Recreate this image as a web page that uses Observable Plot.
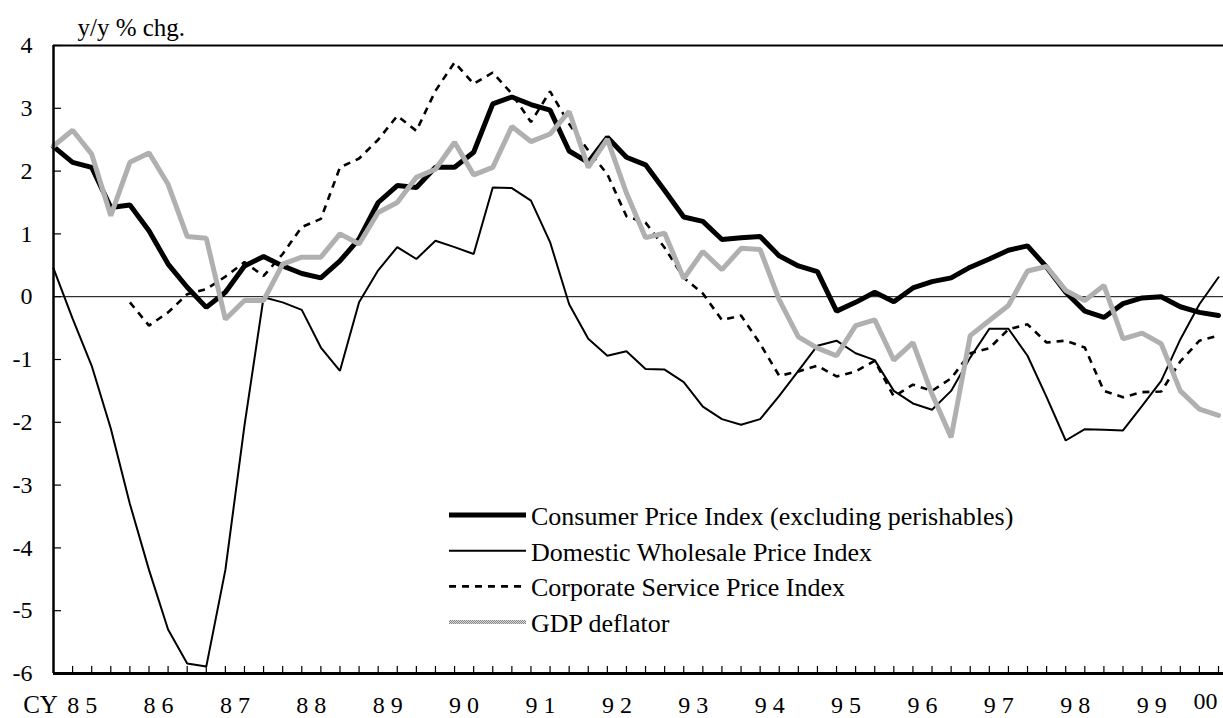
<!DOCTYPE html>
<html>
<head>
<meta charset="utf-8">
<script src="https://cdn.jsdelivr.net/npm/d3@7"></script>
<script src="https://cdn.jsdelivr.net/npm/@observablehq/plot@0.6"></script>
<style>
  html, body { margin: 0; padding: 0; background: #fff; }
  #chart { width: 1223px; height: 718px; }
</style>
</head>
<body>
<div id="chart"></div>
<script>
// ---- data (y/y % change, quarterly, 1985Q1 .. 2000Q2) ----
const quarters = [
  "1985Q1","1985Q2","1985Q3","1985Q4","1986Q1","1986Q2","1986Q3","1986Q4",
  "1987Q1","1987Q2","1987Q3","1987Q4","1988Q1","1988Q2","1988Q3","1988Q4",
  "1989Q1","1989Q2","1989Q3","1989Q4","1990Q1","1990Q2","1990Q3","1990Q4",
  "1991Q1","1991Q2","1991Q3","1991Q4","1992Q1","1992Q2","1992Q3","1992Q4",
  "1993Q1","1993Q2","1993Q3","1993Q4","1994Q1","1994Q2","1994Q3","1994Q4",
  "1995Q1","1995Q2","1995Q3","1995Q4","1996Q1","1996Q2","1996Q3","1996Q4",
  "1997Q1","1997Q2","1997Q3","1997Q4","1998Q1","1998Q2","1998Q3","1998Q4",
  "1999Q1","1999Q2","1999Q3","1999Q4","2000Q1","2000Q2"
];

const cpi = [
  2.39, 2.14, 2.06, 1.42, 1.46, 1.05, 0.52, 0.15,
  -0.17, 0.07, 0.49, 0.64, 0.49, 0.37, 0.30, 0.57,
  0.92, 1.50, 1.77, 1.74, 2.06, 2.06, 2.30, 3.07,
  3.18, 3.06, 2.97, 2.32, 2.14, 2.54, 2.22, 2.10,
  1.69, 1.27, 1.20, 0.91, 0.94, 0.96, 0.65, 0.49,
  0.40, -0.23, -0.09, 0.07, -0.08, 0.14, 0.24, 0.30,
  0.47, 0.60, 0.74, 0.81, 0.47, 0.07, -0.23, -0.33,
  -0.11, -0.02, 0.00, -0.16, -0.25, -0.30
];

const wpi = [
  0.45, -0.35, -1.10, -2.10, -3.30, -4.35, -5.30, -5.84,
  -5.89, -4.35, -2.05, -0.01, -0.09, -0.21, -0.81, -1.18,
  -0.09, 0.42, 0.79, 0.60, 0.89, 0.79, 0.68, 1.74,
  1.73, 1.53, 0.87, -0.12, -0.67, -0.94, -0.87, -1.15,
  -1.16, -1.36, -1.75, -1.95, -2.04, -1.95, -1.58, -1.18,
  -0.78, -0.70, -0.90, -1.01, -1.50, -1.70, -1.80, -1.50,
  -0.97, -0.51, -0.51, -0.94, -1.60, -2.29, -2.11, -2.12,
  -2.13, -1.74, -1.34, -0.68, -0.12, 0.31
];

const cspi = [
  null, null, null, null, -0.09, -0.46, -0.25, 0.04,
  0.12, 0.32, 0.55, 0.33, 0.68, 1.11, 1.24, 2.06,
  2.20, 2.50, 2.88, 2.64, 3.28, 3.73, 3.39, 3.57,
  3.23, 2.78, 3.27, 2.75, 2.33, 1.95, 1.28, 1.18,
  0.78, 0.30, 0.05, -0.37, -0.30, -0.75, -1.26, -1.19,
  -1.10, -1.27, -1.19, -1.02, -1.59, -1.40, -1.50, -1.30,
  -0.90, -0.82, -0.52, -0.44, -0.73, -0.70, -0.81, -1.50,
  -1.60, -1.52, -1.51, -1.03, -0.70, -0.62
];

const gdp = [
  2.40, 2.65, 2.27, 1.29, 2.14, 2.29, 1.79, 0.96,
  0.93, -0.36, -0.06, -0.06, 0.52, 0.63, 0.63, 1.00,
  0.84, 1.34, 1.50, 1.90, 2.03, 2.46, 1.94, 2.06,
  2.71, 2.47, 2.59, 2.95, 2.06, 2.51, 1.65, 0.94,
  1.01, 0.29, 0.72, 0.43, 0.77, 0.75, -0.05, -0.64,
  -0.82, -0.94, -0.46, -0.37, -1.01, -0.73, -1.55, -2.24,
  -0.62, -0.38, -0.14, 0.41, 0.48, 0.10, -0.06, 0.18,
  -0.67, -0.58, -0.75, -1.50, -1.79, -1.89
];

const seriesLabels = [
  "Consumer Price Index (excluding perishables)",
  "Domestic Wholesale Price Index",
  "Corporate Service Price Index",
  "GDP deflator"
];

const yTicks = [4, 3, 2, 1, 0, -1, -2, -3, -4, -5, -6];
const yearLabels = ["85","86","87","88","89","90","91","92","93","94","95","96","97","98","99"];
const lastYearLabel = "00";
const yUnitLabel = "y/y % chg.";
const xPrefix = "CY";

// ---- helpers ----
const toX = q => +q.slice(0, 4) + (+q.slice(5) - 1) / 4;
const xs = quarters.map(toX);
const toRows = vals => vals.map((v, i) => ({x: xs[i], y: v})).filter(d => d.y != null);

const cpiRows = toRows(cpi), wpiRows = toRows(wpi), cspiRows = toRows(cspi), gdpRows = toRows(gdp);

const W = 1223, H = 718;
const mL = 53, mR = 0, mT = 45, mB = 45;
const pxPerYear = (W - 5 - mL) / (xs[xs.length - 1] - xs[0]);
const xDomain = [xs[0], xs[xs.length - 1] + 5 / pxPerYear];

const yearPos = yearLabels.map(s => 1900 + (+s) + 0.375);
const lastPos = [2000.08];

const font = "Liberation Serif, Times New Roman, serif";

const plot = Plot.plot({
  width: W, height: H,
  marginLeft: mL, marginRight: mR, marginTop: mT, marginBottom: mB,
  x: {domain: xDomain, label: null},
  y: {domain: [-6, 4], label: null},
  style: {fontFamily: font, fontSize: "24px", color: "#000", background: "#fff", overflow: "visible"},
  marks: [
    // zero line
    Plot.ruleY([0], {stroke: "#000", strokeWidth: 1}),
    // series
    Plot.line(wpiRows, {x: "x", y: "y", stroke: "#000", strokeWidth: 2, strokeLinejoin: "miter"}),
    Plot.line(cspiRows, {x: "x", y: "y", stroke: "#000", strokeWidth: 2.6, strokeDasharray: "7,6", strokeLinecap: "butt", strokeLinejoin: "miter"}),
    Plot.line(cpiRows, {x: "x", y: "y", stroke: "#000", strokeWidth: 5, strokeLinejoin: "miter"}),
    Plot.line(gdpRows, {x: "x", y: "y", stroke: "url(#gdpPat)", strokeWidth: 5, strokeLinejoin: "miter"}),
    // frame lines
    Plot.ruleY([4], {stroke: "#000", strokeWidth: 2}),
    Plot.ruleY([-6], {stroke: "#000", strokeWidth: 3}),
    Plot.ruleX([xDomain[0]], {stroke: "#000", strokeWidth: 2.5}),
    // inward ticks
    Plot.axisX(xs.slice(1), {anchor: "bottom", tickSize: 7, dy: -7, tickFormat: () => "", strokeWidth: 1.2, label: null}),
    Plot.axisY(yTicks, {anchor: "left", tickSize: 8, dx: 8, tickFormat: () => "", strokeWidth: 1.2, label: null}),
    // tick labels
    Plot.axisY(yTicks, {anchor: "left", tickSize: 0, tickPadding: 21, tickFormat: d => String(d), fontSize: 24, label: null}),
    Plot.axisX(yearPos, {anchor: "bottom", tickSize: 0, tickPadding: 22, tickFormat: (d, i) => yearLabels[i].split("").join(" "), fontSize: 24, label: null}),
    Plot.axisX(lastPos, {anchor: "bottom", tickSize: 0, tickPadding: 18, tickFormat: () => lastYearLabel, fontSize: 24, label: null}),
    // axis annotations
    Plot.text([xPrefix], {frameAnchor: "bottom-left", dx: -13, dy: 31, text: d => d, textAnchor: "middle", lineAnchor: "middle", fontSize: 25}),
    Plot.text([yUnitLabel], {frameAnchor: "top-left", dx: 24, dy: -18, text: d => d, textAnchor: "start", lineAnchor: "middle", fontSize: 25})
  ]
});

document.getElementById("chart").appendChild(plot);

// pattern for GDP deflator line (grey checker texture)
const svg = d3.select(plot);
const defs = svg.insert("defs", ":first-child");
const pat = defs.append("pattern").attr("id", "gdpPat").attr("patternUnits", "userSpaceOnUse")
  .attr("width", 2).attr("height", 2);
pat.append("rect").attr("width", 2).attr("height", 2).attr("fill", "#d8d8d8");
pat.append("rect").attr("x", 0).attr("y", 0).attr("width", 1).attr("height", 1).attr("fill", "#888");
pat.append("rect").attr("x", 1).attr("y", 1).attr("width", 1).attr("height", 1).attr("fill", "#888");

// legend (inside plot area)
const legendStyles = [
  {stroke: "#000", width: 5, dash: null},
  {stroke: "#000", width: 2, dash: null},
  {stroke: "#000", width: 2.6, dash: "7,6"},
  {stroke: "url(#gdpPat)", width: 4, dash: null}
];
const lg = svg.append("g").attr("font-family", font).attr("font-size", 26)
  .attr("fill", "#000").attr("text-anchor", "start");
seriesLabels.forEach((label, k) => {
  const base = 525 + k * 35.7;
  const ly = base - 10;
  const st = legendStyles[k];
  lg.append("line").attr("x1", 449).attr("x2", 526).attr("y1", ly).attr("y2", ly)
    .attr("stroke", st.stroke).attr("stroke-width", st.width)
    .attr("stroke-dasharray", st.dash);
  lg.append("text").attr("x", 531).attr("y", base).attr("text-anchor", "start").text(label);
});
</script>
</body>
</html>
